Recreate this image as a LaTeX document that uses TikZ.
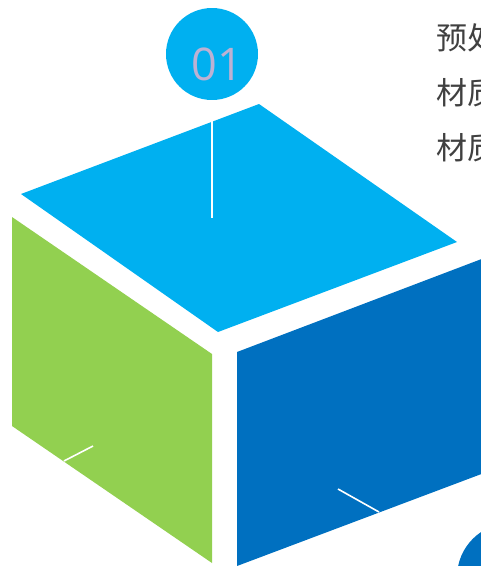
\documentclass[tikz,border=0pt]{standalone}
\usepackage{fontspec}
\newfontfamily\cjk{Noto Sans CJK SC}
\newfontfamily\numfont{Open Sans}
\usetikzlibrary{positioning}
\definecolor{topcyan}{HTML}{00B0F0}
\definecolor{sidegreen}{HTML}{92D050}
\definecolor{sideblue}{HTML}{0070C0}
\definecolor{numlilac}{HTML}{BDB1D3}
\definecolor{notegray}{HTML}{404040}
\tikzset{
  {badge/.style} ={circle,fill=#1,draw=none,inner sep=0,minimum size=92pt},
  badge/.default = topcyan,
  {tick/.style} ={white,line width=1.6pt},
  {note/.style} ={anchor=west,inner sep=0,text=notegray,
                  font=\cjk\fontsize{31}{31}\selectfont},
  {num/.style} ={inner sep=0,text=numlilac,
                 font=\numfont\fontsize{45}{45}\selectfont},
}

\begin{document}
\begin{tikzpicture}[x=1pt,y=-1pt]
\useasboundingbox (0,0) rectangle (481,566);
% the three faces of the box
\fill[topcyan]   (259,104) -- (457,242) -- (218,332) -- (21,194) -- cycle;
\fill[sidegreen] (12,217) -- (212,354) -- (212,563) -- (12,426) -- cycle;
\fill[sideblue]  (237,352) -- (500,252) -- (500,467) -- (237,566) -- cycle;
% number badges
\node[badge] (c1) at (212,54) {};
\node[num] (n1) at (217,64) {01};
\node[badge=sideblue,minimum size=108pt] (c2) at (511,577) {};
% white ticks
\coordinate (t1) at (212,218);
\coordinate (g0) at (64,461);
\coordinate (g1) at (93,446);
\coordinate (b0) at (338,489);
\coordinate (b1) at (379,512);
\draw[tick] (c1.south) -- (t1);
\draw[tick] (g0) -- (g1);
\draw[tick] (b0) -- (b1);
% notes on the right
\node[note] (txt1) at (436,38) {预处理};
\node[note] (txt2) at (436,93) {材质};
\node[note] (txt3) at (436,148) {材质};
\end{tikzpicture}
\end{document}
